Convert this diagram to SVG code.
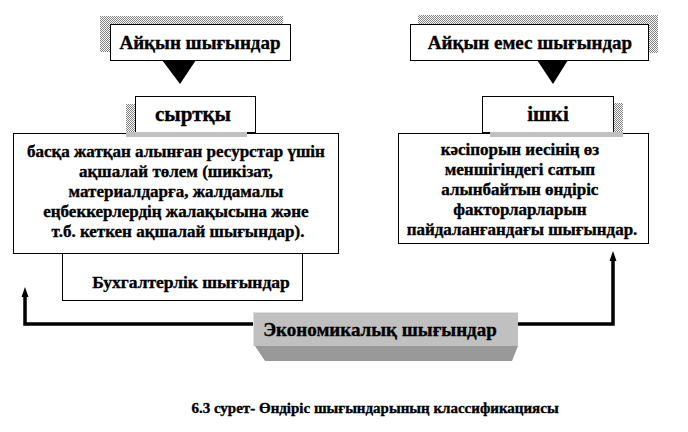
<svg xmlns="http://www.w3.org/2000/svg" width="688" height="432" viewBox="0 0 688 432">
<defs>
<pattern id="dots" width="2" height="2" patternUnits="userSpaceOnUse">
<rect width="2" height="2" fill="#ffffff"/>
<rect width="1" height="1" fill="#808080"/>
<rect x="1" y="1" width="1" height="1" fill="#808080"/>
</pattern>
</defs>
<style>
.t{font-weight:bold;fill:#000;stroke:#000;stroke-width:0.35;text-anchor:middle}
.box{fill:#fff;stroke:#000;stroke-width:1}
.shadow{fill:url(#dots)}
.line{fill:none;stroke:#000;stroke-width:3.5}
</style>
<rect width="688" height="432" fill="#fff"/>

<g id="connectors">
<polygon points="162,60 196,60 180,84" fill="#000"/>
<polygon points="537,60 568,60 553,84" fill="#000"/>
<polyline class="line" points="254,324 25,324 25,294"/>
<polygon points="21.5,297 25,287 28.5,297" fill="#000"/>
<polyline class="line" points="518,324 613,324 613,258"/>
<polygon points="609.5,261 613,251 616.5,261" fill="#000"/>
</g>

<g font-family="'Liberation Serif', 'Times New Roman', serif">
<g id="n-aiqyn">
<rect class="shadow" x="100" y="16" width="183" height="10"/>
<rect class="shadow" x="100" y="16" width="10" height="36"/>
<rect class="box" x="110.5" y="24.5" width="180" height="36"/>
<text class="t" x="200" y="49" font-size="19">Айқын шығындар</text>
</g>

<g id="n-aiqyn-emes">
<rect class="shadow" x="418" y="15" width="240" height="10"/>
<rect class="shadow" x="648" y="15" width="10" height="38"/>
<rect class="box" x="410.5" y="24.5" width="238" height="36"/>
<text class="t" x="530" y="49" font-size="19">Айқын емес шығындар</text>
</g>

<g id="n-syrtky">
<rect class="shadow" x="126" y="104" width="10" height="33"/>
<rect class="box" x="135.5" y="96.5" width="120" height="36"/>
<text class="t" x="193" y="121" font-size="21">сыртқы</text>
</g>

<g id="n-ishki">
<rect class="shadow" x="613" y="103" width="10" height="34"/>
<rect class="box" x="482.5" y="96.5" width="131" height="36"/>
<text class="t" x="548" y="121" font-size="21">ішкі</text>
</g>

<g id="n-left">
<rect class="box" x="13.5" y="133.5" width="325" height="120"/>
<rect x="126" y="132" width="121" height="5" fill="#c0c0c0"/>
<text class="t" font-size="17">
<tspan x="178" y="157">басқа жатқан алынған ресурстар үшін</tspan>
<tspan x="178" y="177">ақшалай төлем (шикізат,</tspan>
<tspan x="178" y="197">материалдарға, жалдамалы</tspan>
<tspan x="178" y="217">еңбеккерлердің  жалақысына және</tspan>
<tspan x="178" y="237">т.б. кеткен ақшалай шығындар).</tspan>
</text>
</g>

<g id="n-right">
<rect class="box" x="398.5" y="133.5" width="250" height="110"/>
<rect x="490" y="132" width="133" height="5" fill="#c0c0c0"/>
<text class="t" font-size="17">
<tspan x="522" y="155">кәсіпорын иесінің өз</tspan>
<tspan x="522" y="175">меншігіндегі  сатып</tspan>
<tspan x="522" y="195">алынбайтын  өндіріс</tspan>
<tspan x="522" y="215">факторларларын</tspan>
<tspan x="522" y="235">пайдаланғандағы шығындар.</tspan>
</text>
</g>

<g id="n-buh">
<rect class="box" x="62.5" y="253.5" width="240" height="47"/>
<text class="t" x="191" y="288" font-size="17.5" stroke-width="0.1">Бухгалтерлік шығындар</text>
</g>

<g id="n-econ">
<polygon points="255,346 518,346 512,361 265,361" fill="#999"/>
<rect x="253" y="312" width="265" height="34" fill="#c0c0c0"/>
<path d="M253.5,346 V312.5 H518" fill="none" stroke="#e0e0e0"/>
<text class="t" x="380" y="336" font-size="19">Экономикалық шығындар</text>
</g>

<text class="t" x="375" y="413" font-size="15">6.3 сурет- Өндіріс  шығындарының классификациясы</text>
</g>
</svg>
